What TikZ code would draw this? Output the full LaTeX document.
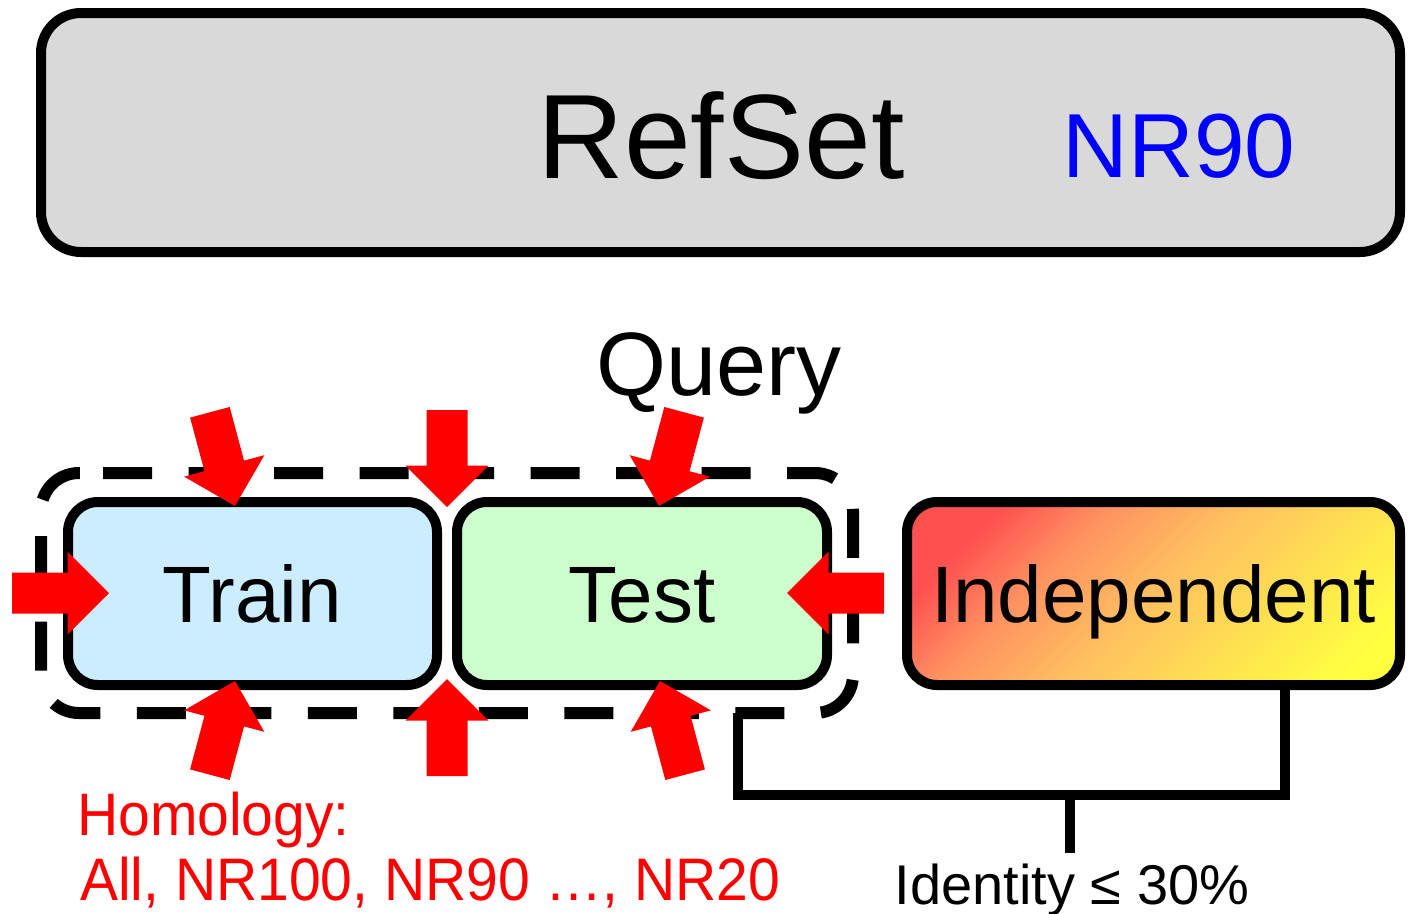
\documentclass[tikz,border=0pt]{standalone}
\usepackage{fontspec}
\setmainfont{Liberation Sans}
\newfontfamily\condfont{Liberation Sans}[FakeStretch=0.95]
\usetikzlibrary{calc}
\definecolor{refgray}{HTML}{D9D9D9}
\definecolor{trainblue}{HTML}{CCECFF}
\definecolor{testgreen}{HTML}{CCFFCC}
\definecolor{arrred}{HTML}{FF0000}
\definecolor{nrblue}{HTML}{0000FF}
\definecolor{indred}{HTML}{FF5050}
\definecolor{indorange}{HTML}{FF9060}
\definecolor{indlight}{HTML}{FFC060}
\definecolor{indyellowish}{HTML}{FFE050}
\definecolor{indyellow}{HTML}{FFFF40}
\pgfdeclarehorizontalshading{indgrad}{100bp}{color(0bp)=(indred); color(36bp)=(indred); color(42bp)=(indorange); color(50bp)=(indlight); color(58bp)=(indyellowish); color(66bp)=(indyellow); color(100bp)=(indyellow)}
\newcommand{\blockarrow}[2]{\fill[arrowfill, shift={(#1)}, rotate=#2] (0,0) -- (-41.5,41.5) -- (-41.5,20.5) -- (-97,20.5) -- (-97,-20.5) -- (-41.5,-20.5) -- (-41.5,-41.5) -- cycle;}
\tikzset{
  topbox/.style={draw=black, line width=10pt, rounded corners=40pt, fill=refgray, inner sep=0pt, minimum width=1359pt, minimum height=239pt},
  box/.style={draw=black, line width=10pt, rounded corners=30pt, inner sep=0pt, minimum height=183pt, text height=57pt, text depth=0pt, font=\fontsize{80}{96}\selectfont},
  indshade/.style={path picture={\shade[shading=indgrad, shading angle=-45] ($(path picture bounding box.center)+(-300,-300)$) rectangle ($(path picture bounding box.center)+(300,300)$);}},
  txt/.style={inner sep=0pt, anchor=base},
  groupline/.style={draw=black, line width=12pt, rounded corners=38pt, dash pattern=on 49pt off 36.5pt},
  bracket/.style={draw=black, line width=10pt, line join=miter},
  arrowfill/.style={fill=arrred},
  homtxt/.style={inner sep=0pt, anchor=base west, text=arrred, font=\condfont\fontsize{60}{72}\selectfont}
}
\begin{document}
\begin{tikzpicture}[x=1pt, y=-1pt]
\useasboundingbox (0,0) rectangle (1411,913);
\fill[white] (0,0) rectangle (1411,913);
% RefSet box
\node[topbox] (refset) at (720.5,132.5) {};
\node[txt, font=\fontsize{120}{144}\selectfont] (reflabel) at (721,178) {RefSet};
\node[txt, text=nrblue, font=\fontsize{91}{110}\selectfont] (nrlabel) at (1179,177) {NR90};
% Query
\node[txt, font=\fontsize{90}{108}\selectfont] (query) at (719,395) {Query};
% dashed query group
\draw[groupline] (103,473) -- (853,473) -- (853,713) -- (41,713) -- (41,473) -- (103,473);
% boxes
\node[box, fill=trainblue, minimum width=369pt] (train) at (252.5,593.5) {Train};
\node[box, fill=testgreen, minimum width=370pt] (test) at (642,593.5) {Test};
\node[box, indshade, minimum width=493pt] (ind) at (1153.5,593.5) {Independent};
% bracket
\coordinate (grpfoot) at (738,713);
\coordinate (junction) at (1070,795);
\path (ind.south) ++(131.5,0) coordinate (indfoot);
\draw[bracket] (grpfoot) |- (junction) -| (indfoot);
\node[txt, font=\fontsize{56}{68}\selectfont] (identity) at (1072,904) {Identity ≤ 30\%};
\draw[bracket, shorten >=10pt] (junction) -- (junction |- identity.north);
% homology text
\node[homtxt] (hom1) at (77,835) {Homology:};
\node[homtxt] (hom2) at (80,900) {All, NR100, NR90 …, NR20};
% red arrows
\coordinate (aL) at (109,593);
\coordinate (aR) at (787,593);
\coordinate (aT1) at (235,506);
\coordinate (aB1) at (235,681);
\coordinate (aT2) at (447,507);
\coordinate (aB2) at (447,679);
\coordinate (aT3) at (659,506);
\coordinate (aB3) at (660,681);
\blockarrow{aL}{0}
\blockarrow{aR}{180}
\blockarrow{aT1}{-75}
\blockarrow{aB1}{75}
\blockarrow{aT2}{-90}
\blockarrow{aB2}{90}
\blockarrow{aT3}{-105}
\blockarrow{aB3}{105}
\end{tikzpicture}
\end{document}
